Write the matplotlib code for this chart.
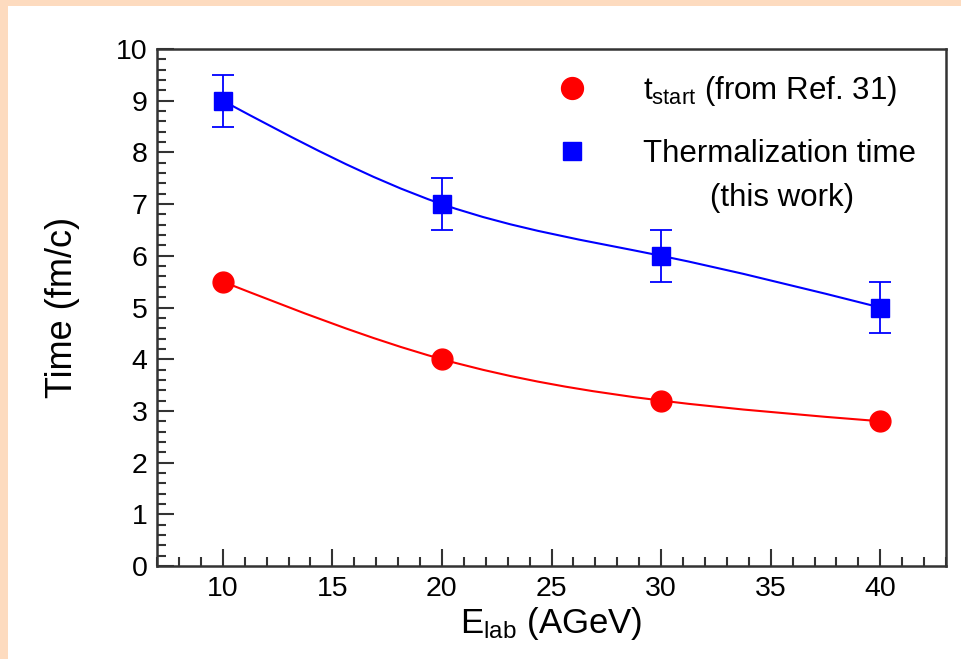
import matplotlib
matplotlib.use("Agg")
import numpy as np
import matplotlib.pyplot as plt
from matplotlib.patches import Rectangle, PathPatch
from matplotlib.path import Path
from matplotlib.ticker import MultipleLocator

# beam energies (AGeV) and times (fm/c)
e_lab = [10, 20, 30, 40]
t_start = [5.5, 4.0, 3.2, 2.8]
t_therm = [9.0, 7.0, 6.0, 5.0]
t_therm_err = [0.5, 0.5, 0.5, 0.5]

label_start = r"$\mathregular{t_{start}}$ (from Ref. 31)"
label_therm = "Thermalization time"
label_therm2 = "(this work)"

plt.rcParams["font.family"] = ["Liberation Sans", "DejaVu Sans"]
plt.rcParams["mathtext.fontset"] = "custom"
plt.rcParams["mathtext.rm"] = "Liberation Sans"


def smooth_path(xs, ys):
    """Bezier path with natural-spline tangents through the points (drawing only)."""
    x = np.asarray(xs, float)
    y = np.asarray(ys, float)
    n = len(x)
    h = np.diff(x)
    # second derivatives of the natural spline
    A = np.zeros((n, n))
    b = np.zeros(n)
    A[0, 0] = A[-1, -1] = 1
    for i in range(1, n - 1):
        A[i, i - 1] = h[i - 1]
        A[i, i] = 2 * (h[i - 1] + h[i])
        A[i, i + 1] = h[i]
        b[i] = 6 * ((y[i + 1] - y[i]) / h[i] - (y[i] - y[i - 1]) / h[i - 1])
    M = np.linalg.solve(A, b)
    verts = [(x[0], y[0])]
    codes = [Path.MOVETO]
    for i in range(n - 1):
        s = (y[i + 1] - y[i]) / h[i]
        m0 = s - h[i] * (2 * M[i] + M[i + 1]) / 6
        m1 = s + h[i] * (M[i] + 2 * M[i + 1]) / 6
        verts += [(x[i] + h[i] / 3, y[i] + h[i] / 3 * m0),
                  (x[i + 1] - h[i] / 3, y[i + 1] - h[i] / 3 * m1),
                  (x[i + 1], y[i + 1])]
        codes += [Path.CURVE4] * 3
    return Path(verts, codes)


fig = plt.figure(figsize=(9.61, 6.59), dpi=100)
fig.patch.set_facecolor("white")
# peach page border (left and top strips)
fig.patches.append(Rectangle((0, 0), 8 / 961, 1, transform=fig.transFigure,
                             facecolor="#FDDBBF", edgecolor="none", zorder=-10))
fig.patches.append(Rectangle((0, 1 - 6 / 659), 1, 6 / 659, transform=fig.transFigure,
                             facecolor="#FDDBBF", edgecolor="none", zorder=-10))

ax = fig.add_axes([157 / 961, 1 - 566 / 659, 789 / 961, 517 / 659])

ax.add_patch(PathPatch(smooth_path(e_lab, t_start), facecolor="none",
                       edgecolor="#FF0000", lw=1.5, zorder=2))
ax.add_patch(PathPatch(smooth_path(e_lab, t_therm), facecolor="none",
                       edgecolor="#0000FF", lw=1.5, zorder=2))

circ, = ax.plot(e_lab, t_start, "o", color="#FF0000", ms=15, zorder=3)
eb = ax.errorbar(e_lab, t_therm, yerr=t_therm_err, fmt="s", color="#0000FF", ms=13,
                 elinewidth=1.3, capsize=8, capthick=1.3, zorder=3)

ax.set_xlim(7, 43)
ax.set_ylim(0, 10)
ax.xaxis.set_major_locator(MultipleLocator(5))
ax.xaxis.set_minor_locator(MultipleLocator(1))
ax.yaxis.set_major_locator(MultipleLocator(1))
ax.yaxis.set_minor_locator(MultipleLocator(0.2))
ax.tick_params(which="both", direction="in", width=1.5, color="#333333",
               labelsize=20.5, top=False, right=False, pad=7)
ax.tick_params(which="major", length=12)
ax.tick_params(which="minor", length=6.5)
for s in ax.spines.values():
    s.set_linewidth(1.8)
    s.set_color("#333333")

ax.set_xlabel(r"$\mathregular{E_{lab}}$ (AGeV)", fontsize=25, labelpad=2)
ax.set_ylabel("Time (fm/c)", fontsize=26, labelpad=26)

ax.legend([circ, eb[0]], [label_start, label_therm], loc="upper left",
          bbox_to_anchor=(0.486, 0.982), frameon=False, borderpad=0,
          fontsize=22.5, labelspacing=0.99, handlelength=1.0, handletextpad=1.77,
          markerscale=1.05)
ax.text(0.792, 0.712, label_therm2, transform=ax.transAxes, fontsize=22.5,
        ha="center", va="center")

fig.savefig("out.png", dpi=100)
